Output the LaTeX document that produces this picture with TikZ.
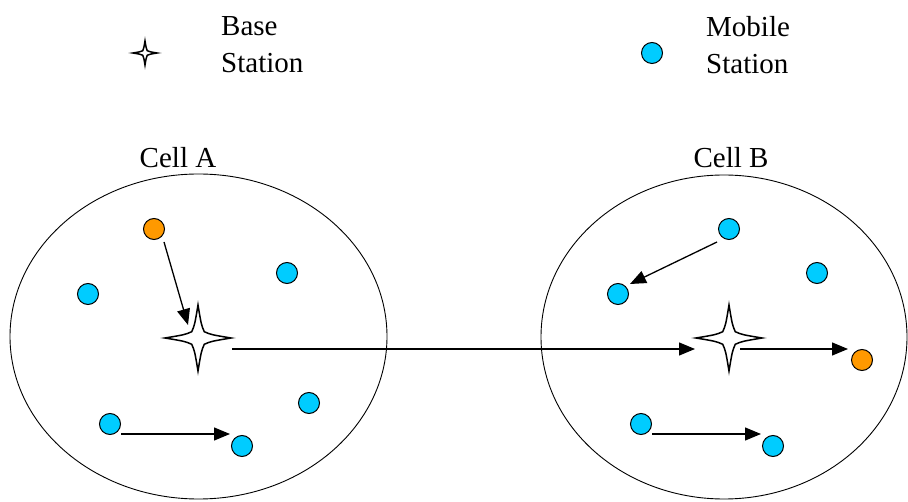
\documentclass[tikz,border=0pt]{standalone}
\usepackage{fontspec}
\setmainfont{Liberation Serif}
\usetikzlibrary{arrows.meta,calc}
\definecolor{msblue}{RGB}{0,204,255}
\definecolor{msorange}{RGB}{255,153,0}
\tikzset{
  ms/.style={circle,draw=black,line width=1pt,minimum size=21pt,inner sep=0pt,fill=msblue},
  mso/.style={ms,fill=msorange},
  bs/.style={circle,inner sep=0pt,minimum size=2pt},
  cell/.style={draw=black,line width=0.9pt},
  lbl/.style={font=\fontsize{29}{37}\selectfont,align=left,inner sep=0pt},
  arr/.style={line width=1.3pt,-{Triangle[length=16pt,width=13pt]}},
  pics/bstar/.style={code={
    \draw[line width=1.5pt,fill=white,line join=miter]
      (#1,0) .. controls (0.4*#1,0.1*#1) .. (0.19*#1,0.19*#1)
      .. controls (0.1*#1,0.4*#1) .. (0,#1)
      .. controls (-0.1*#1,0.4*#1) .. (-0.19*#1,0.19*#1)
      .. controls (-0.4*#1,0.1*#1) .. (-#1,0)
      .. controls (-0.4*#1,-0.1*#1) .. (-0.19*#1,-0.19*#1)
      .. controls (-0.1*#1,-0.4*#1) .. (0,-#1)
      .. controls (0.1*#1,-0.4*#1) .. (0.19*#1,-0.19*#1)
      .. controls (0.4*#1,-0.1*#1) .. cycle;
  }}
}
\begin{document}
\begin{tikzpicture}[x=1pt,y=-1pt]
\useasboundingbox (0,0) rectangle (908,502);
% legend
\pic at (145,53) {bstar=12};
\node[lbl,anchor=west] (lb) at (221,45) {Base\\Station};
\node[ms] (lm) at (652,53) {};
\node[lbl,anchor=west] (lmt) at (706,45) {Mobile\\Station};
% cells
\draw[cell] (198.5,336.5) ellipse [x radius=188.5pt, y radius=162.5pt];
\draw[cell] (724,337) ellipse [x radius=183pt, y radius=162pt];
\node[lbl] (ca) at (178,158) {Cell A};
\node[lbl] (cb) at (731,158) {Cell B};
% base stations
\node[bs] (sa) at (198,338) {};
\node[bs] (sb) at (729,338) {};
\pic at (sa) {bstar=33};
\pic at (sb) {bstar=33};
% mobile stations cell A
\node[mso] (oa) at (154,229) {};
\node[ms] (a1) at (88,294) {};
\node[ms] (a2) at (287,273) {};
\node[ms] (a3) at (309,403) {};
\node[ms] (a4) at (110,424) {};
\node[ms] (a5) at (242,446) {};
% mobile stations cell B
\node[ms] (b1) at (729,229) {};
\node[ms] (b2) at (618,294) {};
\node[ms] (b3) at (817,273) {};
\node[ms] (b4) at (641,424) {};
\node[ms] (b5) at (773,446) {};
\node[mso] (ob) at (862,360) {};
% arrows
\draw[arr] ($(oa)+(10,13)$) -- ($(sa)+(-10,-13)$);
\draw[arr] ($(sa)+(34,11)$) -- ($(sb)+(-34,11)$);
\draw[arr] ($(a4)+(11,10)$) -- ($(a5)+(-12,-12)$);
\draw[arr] ($(b1)+(-12,13)$) -- ($(b2)+(12,-10)$);
\draw[arr] ($(sb)+(11,11)$) -- ($(ob)+(-14,-11)$);
\draw[arr] ($(b4)+(11,10)$) -- ($(b5)+(-12,-12)$);
\end{tikzpicture}
\end{document}
